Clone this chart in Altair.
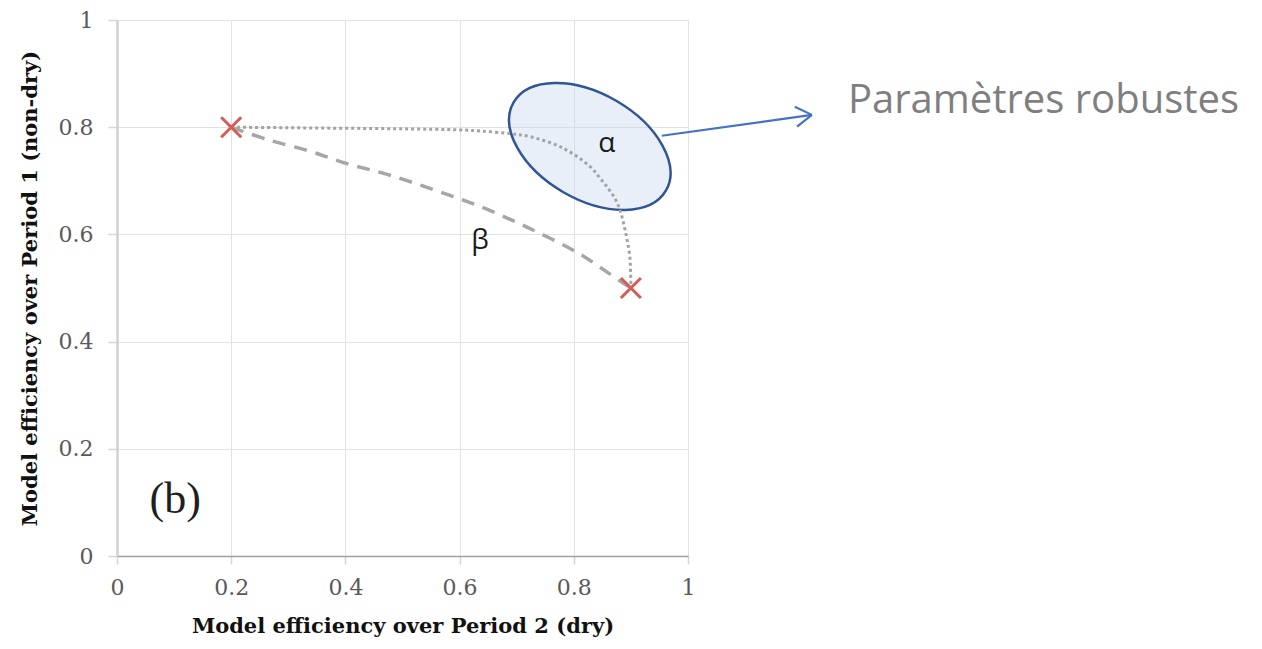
import altair as alt
import pandas as pd

# ---- data ----
tick_values = [0, 0.2, 0.4, 0.6, 0.8, 1]

alpha_x = [0.2, 0.3, 0.4, 0.5, 0.6, 0.636, 0.688, 0.723, 0.781, 0.828, 0.846, 0.860, 0.872, 0.881, 0.890, 0.898, 0.9]
alpha_y = [0.8, 0.799, 0.798, 0.797, 0.795, 0.793, 0.788, 0.7825, 0.761, 0.727, 0.705, 0.686, 0.667, 0.645, 0.607, 0.559, 0.5]

beta_x = [0.2, 0.263, 0.338, 0.403, 0.473, 0.553, 0.636, 0.723, 0.811, 0.881, 0.9]
beta_y = [0.8, 0.777, 0.755, 0.732, 0.712, 0.684, 0.652, 0.611, 0.563, 0.513, 0.5]

end_x = [0.2, 0.9]
end_y = [0.8, 0.5]

ellipse_center = (0.828, 0.764)

arrow_x = [0.954, 1.187, 1.191]
arrow_y = [0.784, 0.838, 0.801]
arrow_x2 = [1.217, 1.217, 1.217]
arrow_y2 = [0.823, 0.823, 0.823]

labels_text = ["α", "β"]
labels_x = [0.858, 0.636]
labels_y = [0.768, 0.587]

x_title = "Model efficiency over Period 2 (dry)"
y_title = "Model efficiency over Period 1 (non-dry)"

# ---- tables ----
alpha_df = pd.DataFrame({"x": alpha_x, "y": alpha_y, "i": range(len(alpha_x))})
beta_df = pd.DataFrame({"x": beta_x, "y": beta_y, "i": range(len(beta_x))})
end_df = pd.DataFrame({"x": end_x, "y": end_y})
ell_df = pd.DataFrame({"x": [ellipse_center[0]], "y": [ellipse_center[1]]})
arrow_df = pd.DataFrame({"x": arrow_x, "y": arrow_y, "x2": arrow_x2, "y2": arrow_y2})
lab_df = pd.DataFrame({"x": labels_x, "y": labels_y, "t": labels_text})
b_df = pd.DataFrame({"x": [0.102], "y": [0.104], "t": ["(b)"]})
note_df = pd.DataFrame({"x": [1.28], "y": [0.848], "t": ["Paramètres robustes"]})

xscale = alt.Scale(domain=[0, 1], nice=False, zero=False)
yscale = alt.Scale(domain=[0, 1], nice=False, zero=False)

serif = "DejaVu Serif"

x_axis = alt.Axis(
    values=tick_values, title=x_title, format="~g", labelFlush=False,
    labelFont=serif, labelFontSize=22, labelColor="#595959", labelPadding=13,
    titleFont=serif, titleFontSize=21, titleFontWeight="bold", titleColor="#111111", titlePadding=17,
    grid=True, gridColor="#e2e2e2", gridWidth=1,
    domainColor="#a0a0a0", domainWidth=1.5,
    tickColor="#d6d6d6", tickSize=8, tickWidth=1.5,
)
y_axis = alt.Axis(
    values=tick_values, title=y_title, format="~g", labelFlush=False,
    labelFont=serif, labelFontSize=22, labelColor="#595959", labelPadding=15,
    titleFont=serif, titleFontSize=21, titleFontWeight="bold", titleColor="#111111", titlePadding=18,
    grid=True, gridColor="#e2e2e2", gridWidth=1,
    domainColor="#d0d0d0", domainWidth=2.5,
    tickColor="#d6d6d6", tickSize=9, tickWidth=1.5,
)

base_x = alt.X("x:Q", scale=xscale, axis=x_axis)
base_y = alt.Y("y:Q", scale=yscale, axis=y_axis)

ellipse_path = ("M1,0C1,0.331,0.552,0.6,0,0.6C-0.552,0.6,-1,0.331,-1,0"
                "C-1,-0.331,-0.552,-0.6,0,-0.6C0.552,-0.6,1,-0.331,1,0Z")

ellipse = alt.Chart(ell_df).mark_point(
    shape=ellipse_path, size=176 * 176, angle=30, filled=True,
    fill="#c9d6ee", fillOpacity=0.4, stroke="#2f5597", strokeWidth=2.5, opacity=1,
).encode(x=base_x, y=base_y)

alpha_line = alt.Chart(alpha_df).mark_line(
    color="#a3a3a3", strokeWidth=3, strokeDash=[3, 3], interpolate="catmull-rom"
).encode(x=alt.X("x:Q", scale=xscale), y=alt.Y("y:Q", scale=yscale), order="i:Q")

beta_line = alt.Chart(beta_df).mark_line(
    color="#a6a6a6", strokeWidth=3.5, strokeDash=[13, 9], interpolate="catmull-rom"
).encode(x=alt.X("x:Q", scale=xscale), y=alt.Y("y:Q", scale=yscale), order="i:Q")

ends = alt.Chart(end_df).mark_point(
    shape="M-1,-1L1,1M1,-1L-1,1", size=400, filled=False,
    stroke="#d45b57", strokeWidth=3, opacity=1,
).encode(x=alt.X("x:Q", scale=xscale), y=alt.Y("y:Q", scale=yscale))

arrow = alt.Chart(arrow_df).mark_rule(
    color="#4472c4", strokeWidth=2.2, clip=False
).encode(x=alt.X("x:Q", scale=xscale), y=alt.Y("y:Q", scale=yscale), x2="x2:Q", y2="y2:Q")

greek = alt.Chart(lab_df).mark_text(
    font="Open Sans", fontSize=28, color="#1a1a1a", align="center", baseline="middle"
).encode(x=alt.X("x:Q", scale=xscale), y=alt.Y("y:Q", scale=yscale), text="t:N")

b_label = alt.Chart(b_df).mark_text(
    font="Liberation Serif", fontSize=44, color="#1f1f1f", align="center", baseline="middle"
).encode(x=alt.X("x:Q", scale=xscale), y=alt.Y("y:Q", scale=yscale), text="t:N")

note = alt.Chart(note_df).mark_text(
    font="Open Sans", fontSize=40, color="#7f7f7f", align="left", baseline="middle", clip=False
).encode(x=alt.X("x:Q", scale=xscale), y=alt.Y("y:Q", scale=yscale), text="t:N")

chart = alt.layer(
    ellipse, alpha_line, beta_line, ends, arrow, greek, b_label, note
).properties(
    width=571, height=536,
    autosize=alt.AutoSizeParams(type="none"),
    padding={"left": 109, "top": 12, "right": 560, "bottom": 82},
).configure_view(stroke=None)

chart.save("out.html", embed_options={"renderer": "svg", "actions": False})
